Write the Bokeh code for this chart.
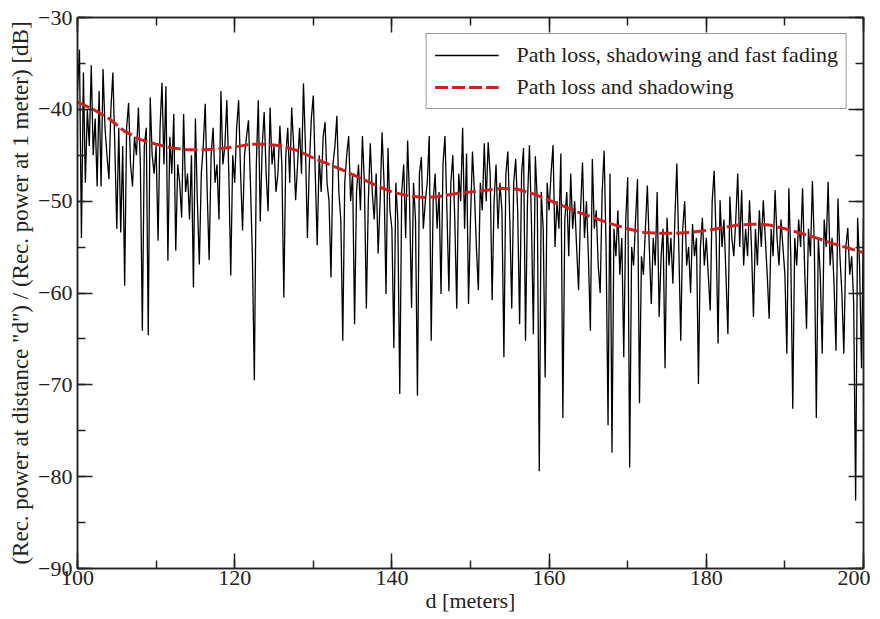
from bokeh.plotting import figure
from bokeh.models import (Range1d, LinearAxis, SingleIntervalTicker, Legend, LegendItem,
                          CustomJSTickFormatter)
from bokeh.embed import file_html
from bokeh.resources import INLINE

# ---- data ----
# fast fading trace, sampled every 0.25 m from 100 m to 200 m
fading_step = 0.25
fading_start = 100.0
fast_fading_db = [
    -38, -33.5, -54, -36, -48, -40, -44, -35.2, -45, -41, -48.4, -38, -48.4, -35.6, -42, -45, -47.6, -40, -36, -44,
    -53, -42, -53.4, -44, -59.2, -42, -39.3, -46, -48.4, -43, -45, -39.8, -46, -64.1, -44, -42, -64.6, -38.7, -45, -47,
    -44, -54.3, -42, -37.1, -46, -37.5, -56.5, -43, -47, -40.5, -55.4, -46, -48, -51.8, -40.5, -49, -47, -52, -45, -59.4,
    -41, -50, -56.9, -47, -44, -39.4, -49, -56.4, -45, -42, -48, -46, -52, -38, -46, -44, -39, -47, -58.1, -45,
    -48, -42, -39, -47, -53.2, -45, -43, -41.2, -48, -55.9, -69.5, -46, -39, -52.2, -44, -40.3, -47, -51.1, -39.8, -46,
    -44, -49, -47, -41.8, -46, -60.5, -45, -42, -48, -39.8, -44, -49.9, -46, -42, -47, -37.2, -44, -54, -46, -41,
    -38.5, -47, -54.8, -45, -49, -43, -41.4, -48, -50, -58.3, -46, -44, -40.7, -49, -52, -65.2, -48, -45, -42.9, -50,
    -47, -63.4, -49, -46, -51, -42.9, -48, -61.7, -50, -43.7, -49, -52, -47, -55.7, -50, -42.5, -48, -60.1, -44.2, -51,
    -53, -66, -48, -52, -71, -49, -46, -54, -43.4, -50, -61.6, -48, -52, -71.2, -47, -45.2, -53, -50, -48, -42.9,
    -65.2, -50, -47, -53, -49, -60.1, -46, -42.9, -51, -59.8, -48, -45, -52, -61.7, -47, -50, -42, -53, -44.8, -61.2,
    -52, -44.6, -49, -55, -59.7, -48, -51, -43.7, -50, -43.6, -47, -60.8, -50, -46, -53, -48, -51, -67, -47, -44.6,
    -52, -61.7, -48, -45.4, -51, -63.4, -47, -44.2, -65.2, -50, -43.9, -52, -64.5, -45.1, -50, -79.4, -49, -53, -69.2, -48,
    -51, -47, -43.9, -55, -50, -53, -44.8, -73.6, -52, -49, -56, -47, -53, -50, -55, -59.7, -51, -45.8, -54, -50,
    -56, -64.1, -45.4, -53, -51, -57, -60, -49, -44.5, -55, -74.4, -47, -77.4, -53, -56, -51, -58, -54, -67, -52,
    -47.4, -79, -55, -57, -52, -47.6, -72, -56, -58, -53, -48.3, -55, -61.2, -54, -57, -49, -62.6, -56, -53, -68.2,
    -51.8, -57, -54, -59, -52, -45.9, -55, -65.2, -53, -50, -57, -55, -60, -52.5, -56, -54, -69.9, -55, -51.8, -57,
    -54, -58, -61.9, -50, -46.7, -54, -65.5, -49.9, -55, -52, -58, -64.5, -49.5, -54, -56, -52, -47, -55, -48.8, -57,
    -53, -56, -49.9, -55, -62.6, -53, -57, -51, -55, -49.9, -54, -58, -62.8, -53, -56, -48.8, -54, -57, -52, -55,
    -58, -66.6, -48.6, -56, -72.6, -54, -57, -52, -55, -48.6, -57, -63.9, -53, -56, -47.8, -55, -73.6, -54, -58, -66.6,
    -52, -55, -47.9, -57, -54, -59, -66.3, -49.7, -56, -60, -66.6, -55, -52.9, -58, -56, -61, -82.6, -51.8, -57, -68.2,
    -51.8,
]
fast_fading_d = [fading_start + fading_step * i for i in range(len(fast_fading_db))]

# path loss + shadowing (smooth curve)
shadow_d = [100, 102, 104, 106, 108, 110, 112, 114, 116, 118, 120, 122, 124, 126, 128, 130, 132, 134,
            136, 138, 140, 142, 144, 146, 148, 150, 152, 154, 156, 158, 160, 162, 164, 166, 168, 170,
            172, 174, 176, 178, 180, 182, 184, 186, 188, 190, 192, 194, 196, 198, 200]
shadow_db = [-39.2, -40.0, -41.0, -42.4, -43.3, -43.8, -44.2, -44.4, -44.4, -44.3, -44.1, -43.8, -43.8,
             -44.0, -44.5, -45.3, -46.0, -46.7, -47.5, -48.3, -49.0, -49.4, -49.6, -49.5, -49.2, -49.0,
             -48.8, -48.6, -48.7, -49.2, -49.9, -50.6, -51.3, -51.9, -52.5, -53.0, -53.4, -53.5, -53.5,
             -53.4, -53.2, -52.9, -52.6, -52.5, -52.6, -53.0, -53.5, -54.0, -54.6, -55.1, -55.6]

series_labels = ["Path loss, shadowing and fast fading", "Path loss and shadowing"]
x_label = "d [meters]"
y_label = '(Rec. power at distance "d") / (Rec. power at 1 meter) [dB]'

FONT = "Liberation Serif"
FS = "22px"

p = figure(width=870, height=615, output_backend="svg", toolbar_location=None,
           x_range=Range1d(100, 200), y_range=Range1d(-90, -30),
           min_border_left=77, min_border_right=7, min_border_top=17, min_border_bottom=47,
           x_axis_type=None, y_axis_type=None)
p.xgrid.visible = False
p.ygrid.visible = False
p.outline_line_color = "#222222"
p.outline_line_width = 1.5
p.background_fill_color = "white"
p.border_fill_color = "white"


def style_axis(ax, labels=True):
    ax.axis_line_color = "#222222"
    ax.axis_line_width = 1.5
    ax.major_tick_in = 15
    ax.major_tick_out = 0
    ax.minor_tick_in = 8
    ax.minor_tick_out = 0
    ax.major_tick_line_color = "#222222"
    ax.minor_tick_line_color = "#222222"
    ax.major_tick_line_width = 1.5
    ax.minor_tick_line_width = 1.5
    if labels:
        ax.major_label_text_font = FONT
        ax.major_label_text_font_size = FS
        ax.major_label_text_color = "#222222"
        ax.axis_label_text_font = FONT
        ax.axis_label_text_font_size = FS
        ax.axis_label_text_font_style = "normal"
        ax.axis_label_text_color = "#222222"
    else:
        ax.formatter = CustomJSTickFormatter(code="return '';")
        ax.major_label_standoff = 0
        ax.axis_label_standoff = 0


xb = LinearAxis(ticker=SingleIntervalTicker(interval=20, num_minor_ticks=2), axis_label=x_label)
style_axis(xb)
xb.major_label_standoff = 2
xb.axis_label_standoff = 0
p.add_layout(xb, "below")

yl = LinearAxis(ticker=SingleIntervalTicker(interval=10, num_minor_ticks=2), axis_label=y_label)
style_axis(yl)
yl.axis_label_text_font_size = "23px"
yl.major_label_standoff = 5
yl.axis_label_standoff = 2
p.add_layout(yl, "left")

xt = LinearAxis(ticker=SingleIntervalTicker(interval=20, num_minor_ticks=2))
style_axis(xt, labels=False)
p.add_layout(xt, "above")

yr = LinearAxis(ticker=SingleIntervalTicker(interval=10, num_minor_ticks=2))
style_axis(yr, labels=False)
p.add_layout(yr, "right")

r1 = p.line(fast_fading_d, fast_fading_db, line_color="black", line_width=1.3)
r2 = p.line(shadow_d, shadow_db, line_color="#cc2222", line_width=3, line_dash="13 4")

legend = Legend(items=[LegendItem(label=series_labels[0], renderers=[r1]),
                       LegendItem(label=series_labels[1], renderers=[r2])],
                location="top_right")
legend.margin = 16
legend.padding = 8
legend.spacing = 6
legend.glyph_width = 64
legend.glyph_height = 22
legend.label_height = 22
legend.label_standoff = 18
legend.label_text_font = FONT
legend.label_text_font_size = FS
legend.label_text_color = "#222222"
legend.border_line_color = "#333333"
legend.border_line_width = 1.5
legend.background_fill_color = "white"
legend.background_fill_alpha = 1
p.add_layout(legend, "center")

open("out.html", "w").write(file_html(p, INLINE))
